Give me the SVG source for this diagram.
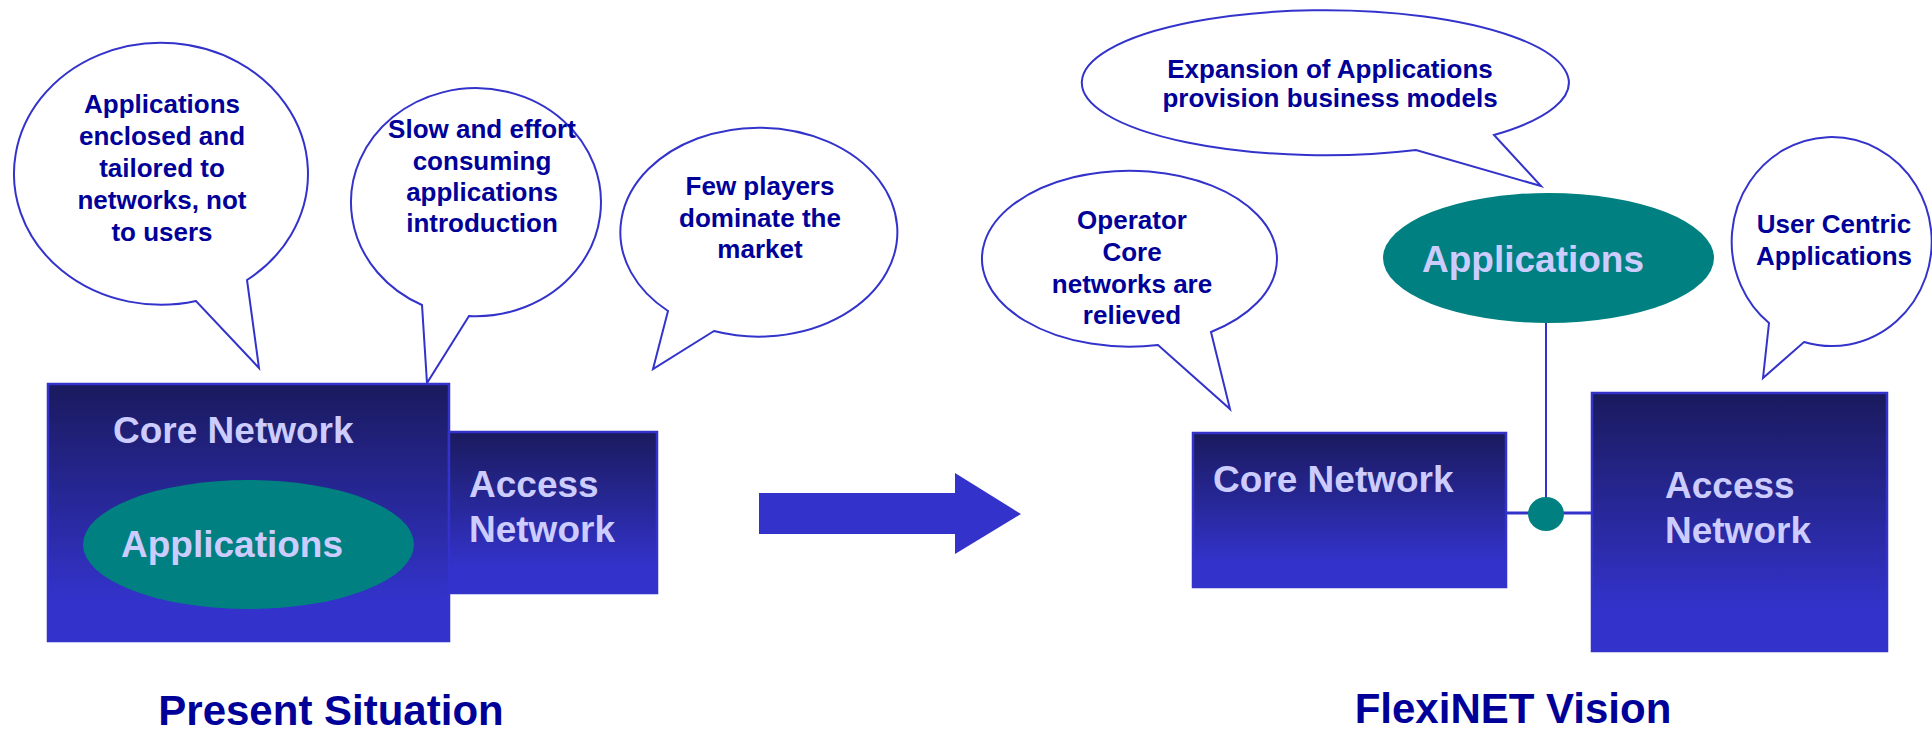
<svg xmlns="http://www.w3.org/2000/svg" width="1932" height="730" viewBox="0 0 1932 730">
<defs>
<linearGradient id="boxgrad" x1="0" y1="0" x2="0" y2="1">
<stop offset="0" stop-color="#1a1a5e"/>
<stop offset="0.85" stop-color="#3333cc"/>
<stop offset="1" stop-color="#3333cc"/>
</linearGradient>
</defs>
<style>
.bubble{fill:#ffffff;stroke:#3333cc;stroke-width:2;stroke-linejoin:miter}
.btxt{font-family:"Liberation Sans",Arial,sans-serif;font-weight:bold;font-size:26px;fill:#000099;text-anchor:middle}
.box{fill:url(#boxgrad);stroke:#3333cc;stroke-width:2.5}
.boxtxt{font-family:"Liberation Sans",Arial,sans-serif;font-weight:bold;font-size:37px;fill:#ccccff}
.app{fill:#008080}
.title{font-family:"Liberation Sans",Arial,sans-serif;font-weight:bold;font-size:42px;fill:#000099;text-anchor:middle}
.conn{stroke:#3333cc;fill:none}
</style>
<rect width="1932" height="730" fill="#ffffff"/>

<g id="bubble-enclosed">
<path class="bubble" d="M 247,280 A 147 131 0 1 0 196,301 L 259,368 Z"/>
<text class="btxt"><tspan x="162" y="113">Applications</tspan><tspan x="162" y="145">enclosed and</tspan><tspan x="162" y="177">tailored to</tspan><tspan x="162" y="209">networks, not</tspan><tspan x="162" y="241">to users</tspan></text>
</g>

<g id="bubble-slow">
<path class="bubble" d="M 469,316 A 125 114 0 1 0 422,305 L 427,383 Z"/>
<text class="btxt"><tspan x="482" y="138">Slow and effort</tspan><tspan x="482" y="170">consuming</tspan><tspan x="482" y="201">applications</tspan><tspan x="482" y="232">introduction</tspan></text>
</g>

<g id="bubble-few">
<path class="bubble" d="M 714,331 A 138.5 104.5 0 1 0 668,311 L 653,369 Z"/>
<text class="btxt"><tspan x="760" y="195">Few players</tspan><tspan x="760" y="227">dominate the</tspan><tspan x="760" y="258">market</tspan></text>
</g>

<g id="present-core">
<rect class="box" x="48" y="384" width="401" height="257"/>
<text class="boxtxt" x="113" y="443">Core Network</text>
</g>

<g id="present-access">
<rect class="box" x="449" y="432" width="208" height="161"/>
<text class="boxtxt"><tspan x="469" y="497">Access</tspan><tspan x="469" y="542">Network</tspan></text>
</g>

<g id="present-apps">
<ellipse class="app" cx="248.5" cy="544.5" rx="165.5" ry="64.5"/>
<text class="boxtxt" x="121" y="557">Applications</text>
</g>

<g id="title-present">
<text class="title" x="331" y="725">Present Situation</text>
</g>

<g id="transition-arrow">
<polygon points="759,493 955,493 955,473 1021,514 955,554 955,534 759,534" fill="#3333cc"/>
</g>

<g id="connectors">
<line class="conn" x1="1546" y1="323" x2="1546" y2="514" stroke-width="2"/>
<line class="conn" x1="1506" y1="513" x2="1592" y2="513" stroke-width="3"/>
</g>

<g id="bubble-expansion">
<path class="bubble" d="M 1494,135 A 243.5 72.5 0 1 0 1416,150 L 1541,186 Z"/>
<text class="btxt"><tspan x="1330" y="78">Expansion of Applications</tspan><tspan x="1330" y="107">provision business models</tspan></text>
</g>

<g id="bubble-operator">
<path class="bubble" d="M 1211,332 A 147.5 88 0 1 0 1158,345 L 1230,409 Z"/>
<text class="btxt"><tspan x="1132" y="229">Operator</tspan><tspan x="1132" y="261">Core</tspan><tspan x="1132" y="293">networks are</tspan><tspan x="1132" y="324">relieved</tspan></text>
</g>

<g id="bubble-user">
<path class="bubble" d="M 1804,342 A 100 104.5 0 1 0 1769,323 L 1763,378 Z"/>
<text class="btxt"><tspan x="1834" y="233">User Centric</tspan><tspan x="1834" y="265">Applications</tspan></text>
</g>

<g id="vision-apps">
<ellipse class="app" cx="1548.5" cy="258" rx="165.5" ry="65"/>
<text class="boxtxt" x="1422" y="272">Applications</text>
</g>

<g id="vision-core">
<rect class="box" x="1193" y="433" width="313" height="154"/>
<text class="boxtxt" x="1213" y="492">Core Network</text>
</g>

<g id="vision-access">
<rect class="box" x="1592" y="393" width="295" height="258"/>
<text class="boxtxt"><tspan x="1665" y="498">Access</tspan><tspan x="1665" y="543">Network</tspan></text>
</g>

<g id="junction">
<ellipse class="app" cx="1546" cy="514" rx="18" ry="17"/>
</g>

<g id="title-vision">
<text class="title" x="1513" y="723">FlexiNET Vision</text>
</g>
</svg>
